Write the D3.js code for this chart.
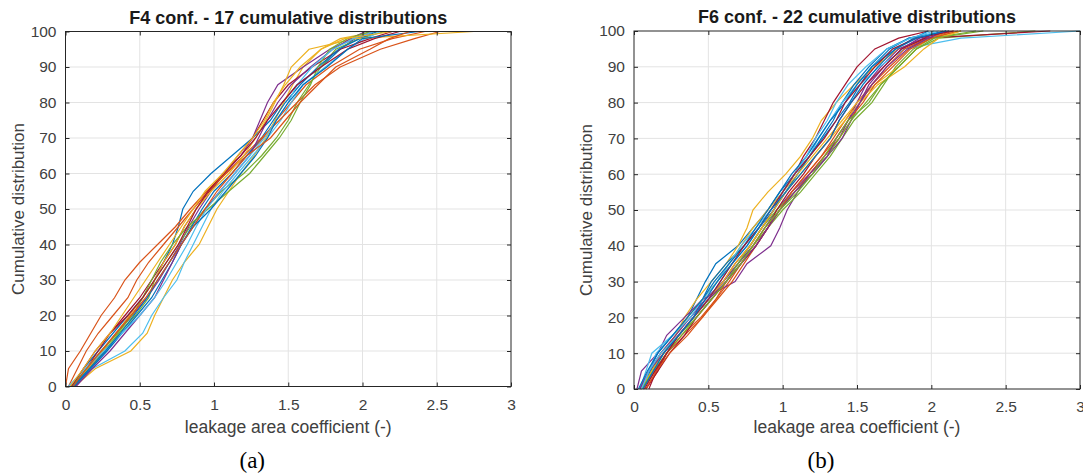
<!DOCTYPE html>
<html>
<head>
<meta charset="utf-8">
<script src="https://cdn.jsdelivr.net/npm/d3@7"></script>
<style>
  body { margin: 0; background: #fff; }
  svg { display: block; }
  .tick text { fill: #404040; }
</style>
</head>
<body>
<svg id="chart" width="1083" height="474"></svg>
<script>
// cumulative levels (%) at which each curve's x value is read
const levels = [0,5,10,15,20,25,30,35,40,45,50,55,60,65,70,75,80,85,90,95,98,100];
const xTicks = [0,0.5,1,1.5,2,2.5,3];
const yTicks = [0,10,20,30,40,50,60,70,80,90,100];
const matlabColors = ["#0072BD","#D95319","#EDB120","#7E2F8E","#77AC30","#4DBEEE","#A2142F"];

// F4 configuration - 17 curves (leakage area coefficient at each level)
const f4Curves = [
  [0.04,0.12,0.22,0.32,0.42,0.52,0.60,0.66,0.72,0.76,0.79,0.86,0.98,1.12,1.26,1.38,1.46,1.56,1.72,1.85,1.95,2.05],
  [0.00,0.02,0.10,0.17,0.24,0.33,0.40,0.50,0.62,0.74,0.84,0.95,1.08,1.22,1.33,1.42,1.52,1.62,1.78,1.98,2.20,2.42],
  [0.06,0.20,0.44,0.55,0.60,0.66,0.72,0.80,0.90,0.96,1.02,1.10,1.18,1.27,1.35,1.41,1.47,1.53,1.60,1.72,1.85,2.10],
  [0.05,0.15,0.25,0.34,0.45,0.55,0.63,0.70,0.77,0.83,0.90,0.98,1.07,1.18,1.26,1.31,1.36,1.43,1.60,1.78,1.95,2.08],
  [0.06,0.16,0.26,0.36,0.47,0.56,0.60,0.68,0.76,0.84,0.94,1.05,1.20,1.32,1.42,1.50,1.56,1.64,1.72,1.82,1.98,2.15],
  [0.03,0.18,0.40,0.52,0.58,0.66,0.75,0.80,0.86,0.92,0.98,1.06,1.16,1.26,1.36,1.45,1.52,1.60,1.75,1.90,2.02,2.12],
  [0.05,0.14,0.22,0.30,0.40,0.50,0.58,0.66,0.74,0.80,0.88,0.97,1.07,1.16,1.26,1.33,1.40,1.50,1.66,1.85,2.05,2.20],
  [0.06,0.17,0.28,0.38,0.48,0.58,0.65,0.72,0.78,0.85,0.92,1.00,1.12,1.22,1.32,1.40,1.48,1.58,1.70,1.84,1.98,2.10],
  [0.02,0.08,0.14,0.22,0.32,0.42,0.48,0.56,0.66,0.76,0.86,0.96,1.08,1.20,1.32,1.44,1.56,1.68,1.85,2.12,2.35,2.52],
  [0.05,0.15,0.25,0.34,0.43,0.52,0.60,0.66,0.74,0.80,0.88,0.98,1.10,1.20,1.28,1.35,1.41,1.47,1.52,1.64,1.95,2.75],
  [0.07,0.18,0.30,0.40,0.50,0.60,0.66,0.72,0.78,0.86,0.94,1.04,1.14,1.24,1.30,1.36,1.43,1.52,1.65,1.80,1.92,2.02],
  [0.04,0.14,0.24,0.35,0.45,0.52,0.58,0.64,0.72,0.82,0.96,1.10,1.24,1.34,1.44,1.52,1.58,1.65,1.70,1.78,1.90,2.05],
  [0.02,0.13,0.26,0.38,0.50,0.60,0.68,0.75,0.82,0.88,0.95,1.04,1.14,1.24,1.34,1.42,1.50,1.56,1.66,1.80,1.94,2.08],
  [0.04,0.12,0.20,0.30,0.42,0.52,0.60,0.68,0.76,0.82,0.88,0.96,1.06,1.18,1.28,1.36,1.46,1.56,1.72,1.90,2.08,2.25],
  [0.05,0.16,0.27,0.37,0.46,0.55,0.62,0.70,0.78,0.86,0.98,1.08,1.18,1.28,1.36,1.42,1.50,1.60,1.76,1.90,2.00,2.38],
  [0.05,0.14,0.24,0.34,0.44,0.54,0.62,0.70,0.78,0.86,0.94,1.02,1.12,1.22,1.38,1.48,1.58,1.70,1.82,2.05,2.18,2.32],
  [0.03,0.12,0.20,0.30,0.38,0.46,0.54,0.62,0.70,0.78,0.86,0.94,1.06,1.16,1.26,1.34,1.40,1.48,1.58,1.72,1.88,2.20]
];

// F6 configuration - 22 curves
const f6Curves = [
  [0.04,0.10,0.16,0.26,0.36,0.42,0.48,0.55,0.70,0.80,0.90,0.98,1.08,1.18,1.27,1.36,1.45,1.52,1.60,1.72,1.85,2.10],
  [0.08,0.16,0.22,0.32,0.45,0.55,0.64,0.72,0.82,0.90,0.98,1.06,1.16,1.26,1.34,1.42,1.50,1.60,1.72,1.85,1.98,2.15],
  [0.05,0.12,0.20,0.28,0.34,0.42,0.52,0.62,0.70,0.76,0.80,0.90,1.02,1.12,1.20,1.26,1.36,1.48,1.62,1.78,1.98,2.12],
  [0.02,0.05,0.16,0.22,0.34,0.46,0.68,0.76,0.92,0.98,1.03,1.10,1.18,1.28,1.38,1.44,1.50,1.56,1.66,1.78,1.95,2.08],
  [0.06,0.12,0.20,0.30,0.40,0.50,0.60,0.70,0.80,0.90,1.00,1.12,1.22,1.32,1.40,1.48,1.60,1.68,1.76,1.88,2.00,2.30],
  [0.04,0.08,0.12,0.26,0.38,0.48,0.60,0.70,0.78,0.86,0.94,1.02,1.10,1.18,1.24,1.32,1.40,1.52,1.65,1.82,2.20,3.00],
  [0.10,0.15,0.22,0.30,0.40,0.50,0.60,0.68,0.78,0.86,0.94,1.00,1.08,1.14,1.22,1.28,1.34,1.42,1.50,1.62,1.78,1.98],
  [0.05,0.11,0.18,0.30,0.40,0.46,0.52,0.62,0.74,0.84,0.94,1.02,1.10,1.18,1.26,1.34,1.40,1.48,1.58,1.70,1.85,2.12],
  [0.06,0.14,0.22,0.34,0.46,0.56,0.66,0.74,0.82,0.90,0.98,1.08,1.18,1.28,1.38,1.46,1.52,1.60,1.70,1.82,1.98,2.20],
  [0.05,0.12,0.18,0.28,0.36,0.46,0.56,0.64,0.72,0.80,0.90,1.00,1.10,1.20,1.30,1.40,1.50,1.62,1.78,1.90,1.98,2.20],
  [0.04,0.10,0.18,0.28,0.38,0.48,0.60,0.70,0.80,0.88,0.96,1.06,1.18,1.30,1.40,1.46,1.52,1.58,1.68,1.80,1.92,2.12],
  [0.05,0.12,0.20,0.30,0.42,0.52,0.62,0.70,0.78,0.86,0.96,1.08,1.20,1.30,1.38,1.46,1.56,1.66,1.78,1.90,2.05,2.70],
  [0.06,0.10,0.15,0.26,0.38,0.46,0.56,0.64,0.72,0.82,0.92,1.00,1.08,1.16,1.24,1.32,1.40,1.50,1.60,1.74,1.90,2.05],
  [0.08,0.16,0.24,0.34,0.42,0.52,0.62,0.72,0.82,0.90,0.96,1.04,1.14,1.22,1.32,1.38,1.46,1.56,1.68,1.80,1.96,2.80],
  [0.03,0.09,0.16,0.26,0.36,0.46,0.54,0.64,0.74,0.82,0.90,0.98,1.06,1.16,1.24,1.32,1.42,1.50,1.60,1.76,1.88,1.98],
  [0.08,0.15,0.24,0.36,0.46,0.55,0.62,0.72,0.80,0.88,0.98,1.06,1.16,1.26,1.36,1.44,1.54,1.62,1.74,1.86,2.00,2.18],
  [0.05,0.12,0.20,0.30,0.40,0.50,0.60,0.68,0.78,0.86,0.94,1.02,1.12,1.22,1.32,1.42,1.52,1.64,1.82,1.95,2.05,2.20],
  [0.04,0.10,0.20,0.30,0.40,0.50,0.62,0.72,0.82,0.90,0.98,1.08,1.20,1.30,1.36,1.44,1.52,1.60,1.70,1.84,1.98,2.10],
  [0.05,0.13,0.22,0.32,0.42,0.52,0.62,0.72,0.80,0.88,0.98,1.10,1.20,1.28,1.36,1.44,1.58,1.66,1.78,1.90,2.02,2.35],
  [0.05,0.10,0.18,0.30,0.40,0.50,0.58,0.66,0.76,0.84,0.92,1.00,1.08,1.16,1.22,1.30,1.36,1.44,1.56,1.70,1.86,2.02],
  [0.07,0.14,0.22,0.30,0.40,0.50,0.58,0.66,0.74,0.84,0.92,1.00,1.08,1.18,1.28,1.36,1.42,1.52,1.62,1.74,1.90,2.15],
  [0.06,0.13,0.20,0.30,0.40,0.48,0.56,0.66,0.76,0.84,0.92,1.02,1.12,1.22,1.32,1.38,1.46,1.54,1.64,1.76,1.90,2.10]
];

const svg = d3.select("#chart");
const font = "'Liberation Sans', Arial, sans-serif";

function drawPanel(curves, box, title, tag) {
  const x = d3.scaleLinear().domain([0, 3]).range([box.left, box.right]);
  const y = d3.scaleLinear().domain([0, 100]).range([box.bottom, box.top]);
  const w = box.right - box.left, h = box.bottom - box.top;
  const g = svg.append("g");

  // grid
  g.append("g").selectAll("line").data(xTicks.slice(1, -1)).enter().append("line")
    .attr("x1", d => x(d)).attr("x2", d => x(d))
    .attr("y1", box.top).attr("y2", box.bottom)
    .attr("stroke", "#e3e3e3").attr("stroke-width", 1);
  g.append("g").selectAll("line").data(yTicks.slice(1, -1)).enter().append("line")
    .attr("x1", box.left).attr("x2", box.right)
    .attr("y1", d => y(d)).attr("y2", d => y(d))
    .attr("stroke", "#e3e3e3").attr("stroke-width", 1);

  // curves
  const line = d3.line()
    .x(d => x(d[0]))
    .y(d => y(d[1]));
  g.append("g").selectAll("path").data(curves).enter().append("path")
    .attr("d", c => line(c.map((v, i) => [v, levels[i]])))
    .attr("fill", "none")
    .attr("stroke", (c, i) => matlabColors[i % matlabColors.length])
    .attr("stroke-width", 1.2);

  // axes, ticks pointing inward
  const ax = (gen, t) => g.append("g").attr("transform", t).call(gen)
    .call(s => s.select(".domain").remove())
    .call(s => s.selectAll(".tick line").attr("stroke", "#262626"))
    .call(s => s.selectAll("text").style("font-family", font).style("font-size", "15.5px"));

  ax(d3.axisBottom(x).tickValues(xTicks).tickSize(-4).tickPadding(12).tickFormat(d3.format("~g")),
     `translate(0,${box.bottom})`);
  ax(d3.axisTop(x).tickValues(xTicks).tickSize(-4).tickFormat(""),
     `translate(0,${box.top})`);
  ax(d3.axisLeft(y).tickValues(yTicks).tickSize(-4).tickPadding(9),
     `translate(${box.left},0)`);
  ax(d3.axisRight(y).tickValues(yTicks).tickSize(-4).tickFormat(""),
     `translate(${box.right},0)`);

  g.append("rect")
    .attr("x", box.left).attr("y", box.top).attr("width", w).attr("height", h)
    .attr("fill", "none").attr("stroke", "#262626").attr("stroke-width", 1);

  const cx = (box.left + box.right) / 2;
  g.append("text").attr("x", cx).attr("y", box.top - 8)
    .attr("text-anchor", "middle")
    .style("font-family", font).style("font-size", "18px").style("font-weight", "bold")
    .attr("fill", "#1a1a1a").text(title);
  g.append("text").attr("x", cx).attr("y", 433)
    .attr("text-anchor", "middle")
    .style("font-family", font).style("font-size", "17.5px")
    .attr("fill", "#404040").text("leakage area coefficient (-)");
  g.append("text")
    .attr("transform", `translate(${box.left - 42},${(box.top + box.bottom) / 2}) rotate(-90)`)
    .attr("text-anchor", "middle")
    .style("font-family", font).style("font-size", "17px")
    .attr("fill", "#404040").text("Cumulative distribution");
  g.append("text").attr("x", cx - 36).attr("y", 468)
    .attr("text-anchor", "middle")
    .style("font-family", "'Liberation Serif', 'Times New Roman', serif").style("font-size", "23px")
    .attr("fill", "#000").text(tag);
}

drawPanel(f4Curves, {left: 65.5, right: 511, top: 31.5, bottom: 386.5}, "F4 conf. - 17 cumulative distributions", "(a)");
drawPanel(f6Curves, {left: 634, right: 1080, top: 31, bottom: 389}, "F6 conf. - 22 cumulative distributions", "(b)");
</script>
</body>
</html>
